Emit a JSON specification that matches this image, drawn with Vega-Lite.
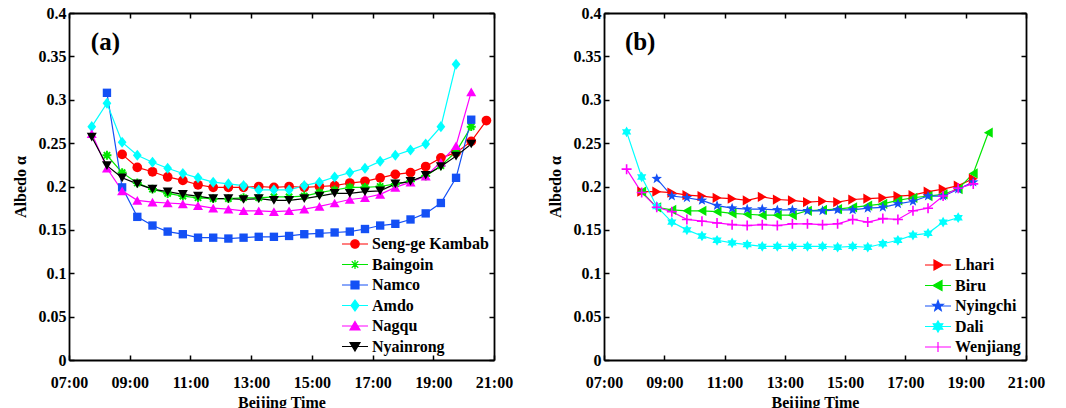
{
  "$schema": "https://vega.github.io/schema/vega-lite/v6.json",
  "padding": {"left": 12, "top": 5, "right": 5, "bottom": 5},
  "background": "white",
  "datasets": {
    "a": [
      {"s":"Seng-ge Kambab","t":8.75,"v":0.237},{"s":"Seng-ge Kambab","t":9.25,"v":0.222},{"s":"Seng-ge Kambab","t":9.75,"v":0.217},{"s":"Seng-ge Kambab","t":10.25,"v":0.211},{"s":"Seng-ge Kambab","t":10.75,"v":0.207},{"s":"Seng-ge Kambab","t":11.25,"v":0.202},{"s":"Seng-ge Kambab","t":11.75,"v":0.199},{"s":"Seng-ge Kambab","t":12.25,"v":0.199},{"s":"Seng-ge Kambab","t":12.75,"v":0.199},{"s":"Seng-ge Kambab","t":13.25,"v":0.2},{"s":"Seng-ge Kambab","t":13.75,"v":0.199},{"s":"Seng-ge Kambab","t":14.25,"v":0.2},{"s":"Seng-ge Kambab","t":14.75,"v":0.199},{"s":"Seng-ge Kambab","t":15.25,"v":0.2},{"s":"Seng-ge Kambab","t":15.75,"v":0.201},{"s":"Seng-ge Kambab","t":16.25,"v":0.204},{"s":"Seng-ge Kambab","t":16.75,"v":0.206},{"s":"Seng-ge Kambab","t":17.25,"v":0.21},{"s":"Seng-ge Kambab","t":17.75,"v":0.214},{"s":"Seng-ge Kambab","t":18.25,"v":0.216},{"s":"Seng-ge Kambab","t":18.75,"v":0.223},{"s":"Seng-ge Kambab","t":19.25,"v":0.233},{"s":"Seng-ge Kambab","t":19.75,"v":0.239},{"s":"Seng-ge Kambab","t":20.25,"v":0.252},{"s":"Seng-ge Kambab","t":20.75,"v":0.276},
      {"s":"Baingoin","t":8.25,"v":0.236},{"s":"Baingoin","t":8.75,"v":0.216},{"s":"Baingoin","t":9.25,"v":0.204},{"s":"Baingoin","t":9.75,"v":0.197},{"s":"Baingoin","t":10.25,"v":0.192},{"s":"Baingoin","t":10.75,"v":0.189},{"s":"Baingoin","t":11.25,"v":0.187},{"s":"Baingoin","t":11.75,"v":0.186},{"s":"Baingoin","t":12.25,"v":0.186},{"s":"Baingoin","t":12.75,"v":0.187},{"s":"Baingoin","t":13.25,"v":0.187},{"s":"Baingoin","t":13.75,"v":0.188},{"s":"Baingoin","t":14.25,"v":0.188},{"s":"Baingoin","t":14.75,"v":0.189},{"s":"Baingoin","t":15.25,"v":0.193},{"s":"Baingoin","t":15.75,"v":0.196},{"s":"Baingoin","t":16.25,"v":0.199},{"s":"Baingoin","t":16.75,"v":0.199},{"s":"Baingoin","t":17.25,"v":0.2},{"s":"Baingoin","t":17.75,"v":0.203},{"s":"Baingoin","t":18.25,"v":0.206},{"s":"Baingoin","t":18.75,"v":0.212},{"s":"Baingoin","t":19.25,"v":0.224},{"s":"Baingoin","t":19.75,"v":0.24},{"s":"Baingoin","t":20.25,"v":0.269},
      {"s":"Namco","t":8.25,"v":0.308},{"s":"Namco","t":8.75,"v":0.199},{"s":"Namco","t":9.25,"v":0.165},{"s":"Namco","t":9.75,"v":0.155},{"s":"Namco","t":10.25,"v":0.148},{"s":"Namco","t":10.75,"v":0.145},{"s":"Namco","t":11.25,"v":0.141},{"s":"Namco","t":11.75,"v":0.141},{"s":"Namco","t":12.25,"v":0.14},{"s":"Namco","t":12.75,"v":0.141},{"s":"Namco","t":13.25,"v":0.142},{"s":"Namco","t":13.75,"v":0.142},{"s":"Namco","t":14.25,"v":0.143},{"s":"Namco","t":14.75,"v":0.145},{"s":"Namco","t":15.25,"v":0.146},{"s":"Namco","t":15.75,"v":0.147},{"s":"Namco","t":16.25,"v":0.148},{"s":"Namco","t":16.75,"v":0.151},{"s":"Namco","t":17.25,"v":0.155},{"s":"Namco","t":17.75,"v":0.157},{"s":"Namco","t":18.25,"v":0.162},{"s":"Namco","t":18.75,"v":0.169},{"s":"Namco","t":19.25,"v":0.181},{"s":"Namco","t":19.75,"v":0.21},{"s":"Namco","t":20.25,"v":0.277},
      {"s":"Amdo","t":7.75,"v":0.269},{"s":"Amdo","t":8.25,"v":0.296},{"s":"Amdo","t":8.75,"v":0.251},{"s":"Amdo","t":9.25,"v":0.236},{"s":"Amdo","t":9.75,"v":0.228},{"s":"Amdo","t":10.25,"v":0.221},{"s":"Amdo","t":10.75,"v":0.215},{"s":"Amdo","t":11.25,"v":0.21},{"s":"Amdo","t":11.75,"v":0.205},{"s":"Amdo","t":12.25,"v":0.203},{"s":"Amdo","t":12.75,"v":0.201},{"s":"Amdo","t":13.25,"v":0.196},{"s":"Amdo","t":13.75,"v":0.196},{"s":"Amdo","t":14.25,"v":0.196},{"s":"Amdo","t":14.75,"v":0.201},{"s":"Amdo","t":15.25,"v":0.205},{"s":"Amdo","t":15.75,"v":0.211},{"s":"Amdo","t":16.25,"v":0.216},{"s":"Amdo","t":16.75,"v":0.221},{"s":"Amdo","t":17.25,"v":0.229},{"s":"Amdo","t":17.75,"v":0.236},{"s":"Amdo","t":18.25,"v":0.242},{"s":"Amdo","t":18.75,"v":0.249},{"s":"Amdo","t":19.25,"v":0.269},{"s":"Amdo","t":19.75,"v":0.341},
      {"s":"Nagqu","t":7.75,"v":0.261},{"s":"Nagqu","t":8.25,"v":0.221},{"s":"Nagqu","t":8.75,"v":0.195},{"s":"Nagqu","t":9.25,"v":0.184},{"s":"Nagqu","t":9.75,"v":0.182},{"s":"Nagqu","t":10.25,"v":0.181},{"s":"Nagqu","t":10.75,"v":0.18},{"s":"Nagqu","t":11.25,"v":0.178},{"s":"Nagqu","t":11.75,"v":0.175},{"s":"Nagqu","t":12.25,"v":0.174},{"s":"Nagqu","t":12.75,"v":0.172},{"s":"Nagqu","t":13.25,"v":0.172},{"s":"Nagqu","t":13.75,"v":0.171},{"s":"Nagqu","t":14.25,"v":0.172},{"s":"Nagqu","t":14.75,"v":0.174},{"s":"Nagqu","t":15.25,"v":0.177},{"s":"Nagqu","t":15.75,"v":0.181},{"s":"Nagqu","t":16.25,"v":0.185},{"s":"Nagqu","t":16.75,"v":0.187},{"s":"Nagqu","t":17.25,"v":0.191},{"s":"Nagqu","t":17.75,"v":0.199},{"s":"Nagqu","t":18.25,"v":0.205},{"s":"Nagqu","t":18.75,"v":0.212},{"s":"Nagqu","t":19.25,"v":0.228},{"s":"Nagqu","t":19.75,"v":0.247},{"s":"Nagqu","t":20.25,"v":0.309},
      {"s":"Nyainrong","t":7.75,"v":0.257},{"s":"Nyainrong","t":8.25,"v":0.224},{"s":"Nyainrong","t":8.75,"v":0.21},{"s":"Nyainrong","t":9.25,"v":0.203},{"s":"Nyainrong","t":9.75,"v":0.197},{"s":"Nyainrong","t":10.25,"v":0.194},{"s":"Nyainrong","t":10.75,"v":0.191},{"s":"Nyainrong","t":11.25,"v":0.189},{"s":"Nyainrong","t":11.75,"v":0.186},{"s":"Nyainrong","t":12.25,"v":0.186},{"s":"Nyainrong","t":12.75,"v":0.185},{"s":"Nyainrong","t":13.25,"v":0.186},{"s":"Nyainrong","t":13.75,"v":0.184},{"s":"Nyainrong","t":14.25,"v":0.184},{"s":"Nyainrong","t":14.75,"v":0.186},{"s":"Nyainrong","t":15.25,"v":0.189},{"s":"Nyainrong","t":15.75,"v":0.192},{"s":"Nyainrong","t":16.25,"v":0.192},{"s":"Nyainrong","t":16.75,"v":0.194},{"s":"Nyainrong","t":17.25,"v":0.195},{"s":"Nyainrong","t":17.75,"v":0.203},{"s":"Nyainrong","t":18.25,"v":0.206},{"s":"Nyainrong","t":18.75,"v":0.213},{"s":"Nyainrong","t":19.25,"v":0.223},{"s":"Nyainrong","t":19.75,"v":0.235},{"s":"Nyainrong","t":20.25,"v":0.249}
    ],
    "b": [
      {"s":"Lhari","t":8.25,"v":0.194},{"s":"Lhari","t":8.75,"v":0.194},{"s":"Lhari","t":9.25,"v":0.193},{"s":"Lhari","t":9.75,"v":0.19},{"s":"Lhari","t":10.25,"v":0.189},{"s":"Lhari","t":10.75,"v":0.187},{"s":"Lhari","t":11.25,"v":0.186},{"s":"Lhari","t":11.75,"v":0.184},{"s":"Lhari","t":12.25,"v":0.188},{"s":"Lhari","t":12.75,"v":0.185},{"s":"Lhari","t":13.25,"v":0.184},{"s":"Lhari","t":13.75,"v":0.182},{"s":"Lhari","t":14.25,"v":0.183},{"s":"Lhari","t":14.75,"v":0.182},{"s":"Lhari","t":15.25,"v":0.185},{"s":"Lhari","t":15.75,"v":0.186},{"s":"Lhari","t":16.25,"v":0.187},{"s":"Lhari","t":16.75,"v":0.189},{"s":"Lhari","t":17.25,"v":0.19},{"s":"Lhari","t":17.75,"v":0.194},{"s":"Lhari","t":18.25,"v":0.197},{"s":"Lhari","t":18.75,"v":0.201},{"s":"Lhari","t":19.25,"v":0.209},
      {"s":"Biru","t":8.25,"v":0.194},{"s":"Biru","t":8.75,"v":0.176},{"s":"Biru","t":9.25,"v":0.173},{"s":"Biru","t":9.75,"v":0.172},{"s":"Biru","t":10.25,"v":0.172},{"s":"Biru","t":10.75,"v":0.171},{"s":"Biru","t":11.25,"v":0.169},{"s":"Biru","t":11.75,"v":0.168},{"s":"Biru","t":12.25,"v":0.167},{"s":"Biru","t":12.75,"v":0.167},{"s":"Biru","t":13.25,"v":0.167},{"s":"Biru","t":13.75,"v":0.172},{"s":"Biru","t":14.25,"v":0.173},{"s":"Biru","t":14.75,"v":0.174},{"s":"Biru","t":15.25,"v":0.176},{"s":"Biru","t":15.75,"v":0.178},{"s":"Biru","t":16.25,"v":0.18},{"s":"Biru","t":16.75,"v":0.184},{"s":"Biru","t":17.25,"v":0.187},{"s":"Biru","t":17.75,"v":0.189},{"s":"Biru","t":18.25,"v":0.191},{"s":"Biru","t":18.75,"v":0.197},{"s":"Biru","t":19.25,"v":0.215},{"s":"Biru","t":19.75,"v":0.262},
      {"s":"Nyingchi","t":8.75,"v":0.209},{"s":"Nyingchi","t":9.25,"v":0.189},{"s":"Nyingchi","t":9.75,"v":0.187},{"s":"Nyingchi","t":10.25,"v":0.184},{"s":"Nyingchi","t":10.75,"v":0.178},{"s":"Nyingchi","t":11.25,"v":0.175},{"s":"Nyingchi","t":11.75,"v":0.174},{"s":"Nyingchi","t":12.25,"v":0.174},{"s":"Nyingchi","t":12.75,"v":0.173},{"s":"Nyingchi","t":13.25,"v":0.173},{"s":"Nyingchi","t":13.75,"v":0.172},{"s":"Nyingchi","t":14.25,"v":0.172},{"s":"Nyingchi","t":14.75,"v":0.173},{"s":"Nyingchi","t":15.25,"v":0.173},{"s":"Nyingchi","t":15.75,"v":0.175},{"s":"Nyingchi","t":16.25,"v":0.176},{"s":"Nyingchi","t":16.75,"v":0.18},{"s":"Nyingchi","t":17.25,"v":0.183},{"s":"Nyingchi","t":17.75,"v":0.189},{"s":"Nyingchi","t":18.25,"v":0.189},{"s":"Nyingchi","t":18.75,"v":0.197},{"s":"Nyingchi","t":19.25,"v":0.205},
      {"s":"Dali","t":7.75,"v":0.263},{"s":"Dali","t":8.25,"v":0.211},{"s":"Dali","t":8.75,"v":0.177},{"s":"Dali","t":9.25,"v":0.159},{"s":"Dali","t":9.75,"v":0.15},{"s":"Dali","t":10.25,"v":0.143},{"s":"Dali","t":10.75,"v":0.138},{"s":"Dali","t":11.25,"v":0.135},{"s":"Dali","t":11.75,"v":0.133},{"s":"Dali","t":12.25,"v":0.131},{"s":"Dali","t":12.75,"v":0.131},{"s":"Dali","t":13.25,"v":0.131},{"s":"Dali","t":13.75,"v":0.131},{"s":"Dali","t":14.25,"v":0.131},{"s":"Dali","t":14.75,"v":0.13},{"s":"Dali","t":15.25,"v":0.131},{"s":"Dali","t":15.75,"v":0.13},{"s":"Dali","t":16.25,"v":0.134},{"s":"Dali","t":16.75,"v":0.138},{"s":"Dali","t":17.25,"v":0.144},{"s":"Dali","t":17.75,"v":0.146},{"s":"Dali","t":18.25,"v":0.159},{"s":"Dali","t":18.75,"v":0.164},
      {"s":"Wenjiang","t":7.75,"v":0.22},{"s":"Wenjiang","t":8.25,"v":0.193},{"s":"Wenjiang","t":8.75,"v":0.176},{"s":"Wenjiang","t":9.25,"v":0.171},{"s":"Wenjiang","t":9.75,"v":0.162},{"s":"Wenjiang","t":10.25,"v":0.16},{"s":"Wenjiang","t":10.75,"v":0.158},{"s":"Wenjiang","t":11.25,"v":0.156},{"s":"Wenjiang","t":11.75,"v":0.155},{"s":"Wenjiang","t":12.25,"v":0.156},{"s":"Wenjiang","t":12.75,"v":0.155},{"s":"Wenjiang","t":13.25,"v":0.157},{"s":"Wenjiang","t":13.75,"v":0.157},{"s":"Wenjiang","t":14.25,"v":0.156},{"s":"Wenjiang","t":14.75,"v":0.157},{"s":"Wenjiang","t":15.25,"v":0.162},{"s":"Wenjiang","t":15.75,"v":0.159},{"s":"Wenjiang","t":16.25,"v":0.163},{"s":"Wenjiang","t":16.75,"v":0.162},{"s":"Wenjiang","t":17.25,"v":0.172},{"s":"Wenjiang","t":17.75,"v":0.175},{"s":"Wenjiang","t":18.25,"v":0.189},{"s":"Wenjiang","t":18.75,"v":0.198},{"s":"Wenjiang","t":19.25,"v":0.203}
    ]
  },
  "spacing": 110,
  "bounds": "flush",
  "resolve": {
    "scale": {"stroke": "independent", "fill": "independent", "shape": "independent"},
    "legend": {"stroke": "independent", "fill": "independent", "shape": "independent"}
  },
  "hconcat": [
    {
      "width": 425,
      "height": 347,
      "data": {"name": "a"},
      "layer": [
        {
          "mark": {"type": "line", "strokeWidth": 1.2},
          "encoding": {
            "x": {"field": "t", "type": "quantitative", "scale": {"domain": [7, 21], "nice": false, "zero": false},
                  "axis": {"orient": "bottom", "values": [7, 9, 11, 13, 15, 17, 19, 21], "labelExpr": "(datum.value < 10 ? '0' : '') + datum.value + ':00'", "title": "Beijing Time", "labelPadding": 19, "titlePadding": 4}},
            "y": {"field": "v", "type": "quantitative", "scale": {"domain": [0, 0.4], "nice": false, "zero": true},
                  "axis": {"orient": "left", "values": [0, 0.05, 0.1, 0.15, 0.2, 0.25, 0.3, 0.35, 0.4], "format": "~g", "title": "Albedo α", "labelPadding": 8, "titlePadding": 10}},
            "stroke": {"field": "s", "type": "nominal", "scale": {"domain": ["Seng-ge Kambab", "Baingoin", "Namco", "Amdo", "Nagqu", "Nyainrong"], "range": ["#ff0000", "#00e600", "#1450f5", "#00ffff", "#ff00ff", "#000000"]},
                       "legend": {"orient": "bottom-right", "offset": 5, "padding": 0, "title": null, "symbolSize": 100, "symbolStrokeWidth": 1.2, "symbolOpacity": 1, "labelOffset": 9, "rowPadding": 4.5, "labelLimit": 300}}
          }
        },
        {"transform": [{"filter": "datum.s === 'Seng-ge Kambab'"}], "mark": {"type": "point", "shape": "circle", "filled": true, "color": "#ff0000", "size": 95, "opacity": 1},
         "encoding": {"x": {"field": "t", "type": "quantitative", "axis": null}, "y": {"field": "v", "type": "quantitative", "axis": null}}},
        {"transform": [{"filter": "datum.s === 'Baingoin'"}], "mark": {"type": "point", "shape": "M-1,0H1M0,-1V1M-0.7,-0.7L0.7,0.7M-0.7,0.7L0.7,-0.7", "filled": false, "color": "#00e600", "size": 80, "strokeWidth": 2, "opacity": 1},
         "encoding": {"x": {"field": "t", "type": "quantitative", "axis": null}, "y": {"field": "v", "type": "quantitative", "axis": null}}},
        {"transform": [{"filter": "datum.s === 'Namco'"}], "mark": {"type": "point", "shape": "square", "filled": true, "color": "#1450f5", "size": 70, "opacity": 1},
         "encoding": {"x": {"field": "t", "type": "quantitative", "axis": null}, "y": {"field": "v", "type": "quantitative", "axis": null}}},
        {"transform": [{"filter": "datum.s === 'Amdo'"}], "mark": {"type": "point", "shape": "M0,-1.2L0.95,0L0,1.2L-0.95,0Z", "filled": true, "color": "#00ffff", "size": 85, "opacity": 1},
         "encoding": {"x": {"field": "t", "type": "quantitative", "axis": null}, "y": {"field": "v", "type": "quantitative", "axis": null}}},
        {"transform": [{"filter": "datum.s === 'Nagqu'"}], "mark": {"type": "point", "shape": "triangle-up", "filled": true, "color": "#ff00ff", "size": 100, "opacity": 1},
         "encoding": {"x": {"field": "t", "type": "quantitative", "axis": null}, "y": {"field": "v", "type": "quantitative", "axis": null}}},
        {"transform": [{"filter": "datum.s === 'Nyainrong'"}], "mark": {"type": "point", "shape": "triangle-down", "filled": true, "color": "#000000", "size": 100, "opacity": 1},
         "encoding": {"x": {"field": "t", "type": "quantitative", "axis": null}, "y": {"field": "v", "type": "quantitative", "axis": null}}},
        {
          "transform": [{"filter": "false"}],
          "mark": {"type": "point", "filled": true, "size": 100, "opacity": 1, "strokeWidth": 1.2},
          "encoding": {
            "x": {"field": "t", "type": "quantitative", "axis": {"orient": "top", "values": [7, 9, 11, 13, 15, 17, 19, 21], "labels": false, "title": null}},
            "y": {"field": "v", "type": "quantitative", "axis": {"orient": "right", "values": [0, 0.05, 0.1, 0.15, 0.2, 0.25, 0.3, 0.35, 0.4], "labels": false, "title": null}},
            "fill": {"field": "s", "type": "nominal", "scale": {"domain": ["Seng-ge Kambab", "Baingoin", "Namco", "Amdo", "Nagqu", "Nyainrong"], "range": ["#ff0000", "#00e600", "#1450f5", "#00ffff", "#ff00ff", "#000000"]},
                     "legend": {"orient": "bottom-right", "offset": 5, "padding": 0, "title": null, "symbolSize": 100, "symbolStrokeWidth": 1.2, "symbolOpacity": 1, "labelOffset": 9, "rowPadding": 4.5, "labelLimit": 300}},
            "stroke": {"field": "s", "type": "nominal", "scale": {"domain": ["Seng-ge Kambab", "Baingoin", "Namco", "Amdo", "Nagqu", "Nyainrong"], "range": ["#ff0000", "#00e600", "#1450f5", "#00ffff", "#ff00ff", "#000000"]},
                       "legend": {"orient": "bottom-right", "offset": 5, "padding": 0, "title": null, "symbolSize": 100, "symbolStrokeWidth": 1.2, "symbolOpacity": 1, "labelOffset": 9, "rowPadding": 4.5, "labelLimit": 300}},
            "shape": {"field": "s", "type": "nominal", "scale": {"domain": ["Seng-ge Kambab", "Baingoin", "Namco", "Amdo", "Nagqu", "Nyainrong"],
                       "range": [
                         "M-2.6,0H2.6M0.85,0A0.85,0.85,0,1,1,-0.85,0A0.85,0.85,0,1,1,0.85,0Z",
                         "M-2.6,0H2.6M-0.9,0H0.9M0,-0.9V0.9M-0.65,-0.65L0.65,0.65M-0.65,0.65L0.65,-0.65",
                         "M-2.6,0H2.6M-0.8,-0.8H0.8V0.8H-0.8Z",
                         "M-2.6,0H2.6M0,-1.1L0.8,0L0,1.1L-0.8,0Z",
                         "M-2.6,0H2.6M0,-0.9L1,0.8H-1Z",
                         "M-2.6,0H2.6M0,0.9L1,-0.8H-1Z"
                       ]},
                      "legend": {"orient": "bottom-right", "offset": 5, "padding": 0, "title": null, "symbolSize": 100, "symbolStrokeWidth": 1.2, "symbolOpacity": 1, "labelOffset": 9, "rowPadding": 4.5, "labelLimit": 300}}
          }
        },
        {
          "data": {"values": [{}]},
          "mark": {"type": "text", "text": "(a)", "font": "Liberation Serif", "fontWeight": "bold", "fontSize": 25, "align": "center", "baseline": "middle", "color": "black"},
          "encoding": {"x": {"datum": 8.2, "type": "quantitative", "axis": null}, "y": {"datum": 0.366, "type": "quantitative", "axis": null}}
        }
      ],
      "resolve": {"axis": {"x": "independent", "y": "independent"}}
    },
    {
      "width": 422,
      "height": 347,
      "data": {"name": "b"},
      "layer": [
        {
          "mark": {"type": "line", "strokeWidth": 1.2},
          "encoding": {
            "x": {"field": "t", "type": "quantitative", "scale": {"domain": [7, 21], "nice": false, "zero": false},
                  "axis": {"orient": "bottom", "values": [7, 9, 11, 13, 15, 17, 19, 21], "labelExpr": "(datum.value < 10 ? '0' : '') + datum.value + ':00'", "title": "Beijing Time", "labelPadding": 19, "titlePadding": 4}},
            "y": {"field": "v", "type": "quantitative", "scale": {"domain": [0, 0.4], "nice": false, "zero": true},
                  "axis": {"orient": "left", "values": [0, 0.05, 0.1, 0.15, 0.2, 0.25, 0.3, 0.35, 0.4], "format": "~g", "title": "Albedo α", "labelPadding": 8, "titlePadding": 10}},
            "stroke": {"field": "s", "type": "nominal", "scale": {"domain": ["Lhari", "Biru", "Nyingchi", "Dali", "Wenjiang"], "range": ["#ff0000", "#00e600", "#1450f5", "#00ffff", "#ff00ff"]},
                       "legend": {"orient": "bottom-right", "offset": 5, "padding": 0, "title": null, "symbolSize": 100, "symbolStrokeWidth": 1.2, "symbolOpacity": 1, "labelOffset": 9, "rowPadding": 4.5, "labelLimit": 300}}
          }
        },
        {"transform": [{"filter": "datum.s === 'Lhari'"}], "mark": {"type": "point", "shape": "triangle-right", "filled": true, "color": "#ff0000", "size": 105, "opacity": 1},
         "encoding": {"x": {"field": "t", "type": "quantitative", "axis": null}, "y": {"field": "v", "type": "quantitative", "axis": null}}},
        {"transform": [{"filter": "datum.s === 'Biru'"}], "mark": {"type": "point", "shape": "triangle-left", "filled": true, "color": "#00e600", "size": 105, "opacity": 1},
         "encoding": {"x": {"field": "t", "type": "quantitative", "axis": null}, "y": {"field": "v", "type": "quantitative", "axis": null}}},
        {"transform": [{"filter": "datum.s === 'Nyingchi'"}], "mark": {"type": "point", "shape": "M0,-1.1L0.265,-0.364L1.046,-0.34L0.428,0.139L0.647,0.89L0,0.45L-0.647,0.89L-0.428,0.139L-1.046,-0.34L-0.265,-0.364Z", "filled": true, "color": "#1450f5", "size": 100, "opacity": 1},
         "encoding": {"x": {"field": "t", "type": "quantitative", "axis": null}, "y": {"field": "v", "type": "quantitative", "axis": null}}},
        {"transform": [{"filter": "datum.s === 'Dali'"}], "mark": {"type": "point", "shape": "M0,-1.1L0.318,-0.55L0.953,-0.55L0.635,0L0.953,0.55L0.318,0.55L0,1.1L-0.318,0.55L-0.953,0.55L-0.635,0L-0.953,-0.55L-0.318,-0.55Z", "filled": true, "color": "#00ffff", "size": 95, "opacity": 1},
         "encoding": {"x": {"field": "t", "type": "quantitative", "axis": null}, "y": {"field": "v", "type": "quantitative", "axis": null}}},
        {"transform": [{"filter": "datum.s === 'Wenjiang'"}], "mark": {"type": "point", "shape": "M-1,0H1M0,-1V1", "filled": false, "color": "#ff00ff", "size": 100, "strokeWidth": 1.6, "opacity": 1},
         "encoding": {"x": {"field": "t", "type": "quantitative", "axis": null}, "y": {"field": "v", "type": "quantitative", "axis": null}}},
        {
          "transform": [{"filter": "false"}],
          "mark": {"type": "point", "filled": true, "size": 100, "opacity": 1, "strokeWidth": 1.2},
          "encoding": {
            "x": {"field": "t", "type": "quantitative", "axis": {"orient": "top", "values": [7, 9, 11, 13, 15, 17, 19, 21], "labels": false, "title": null}},
            "y": {"field": "v", "type": "quantitative", "axis": {"orient": "right", "values": [0, 0.05, 0.1, 0.15, 0.2, 0.25, 0.3, 0.35, 0.4], "labels": false, "title": null}},
            "fill": {"field": "s", "type": "nominal", "scale": {"domain": ["Lhari", "Biru", "Nyingchi", "Dali", "Wenjiang"], "range": ["#ff0000", "#00e600", "#1450f5", "#00ffff", "#ff00ff"]},
                     "legend": {"orient": "bottom-right", "offset": 5, "padding": 0, "title": null, "symbolSize": 100, "symbolStrokeWidth": 1.2, "symbolOpacity": 1, "labelOffset": 9, "rowPadding": 4.5, "labelLimit": 300}},
            "stroke": {"field": "s", "type": "nominal", "scale": {"domain": ["Lhari", "Biru", "Nyingchi", "Dali", "Wenjiang"], "range": ["#ff0000", "#00e600", "#1450f5", "#00ffff", "#ff00ff"]},
                       "legend": {"orient": "bottom-right", "offset": 5, "padding": 0, "title": null, "symbolSize": 100, "symbolStrokeWidth": 1.2, "symbolOpacity": 1, "labelOffset": 9, "rowPadding": 4.5, "labelLimit": 300}},
            "shape": {"field": "s", "type": "nominal", "scale": {"domain": ["Lhari", "Biru", "Nyingchi", "Dali", "Wenjiang"],
                       "range": [
                         "M-2.6,0H2.6M1,0L-0.8,-1V1Z",
                         "M-2.6,0H2.6M-1,0L0.8,-1V1Z",
                         "M-2.6,0H2.6M0,-1.1L0.265,-0.364L1.046,-0.34L0.428,0.139L0.647,0.89L0,0.45L-0.647,0.89L-0.428,0.139L-1.046,-0.34L-0.265,-0.364Z",
                         "M-2.6,0H2.6M0,-1.1L0.318,-0.55L0.953,-0.55L0.635,0L0.953,0.55L0.318,0.55L0,1.1L-0.318,0.55L-0.953,0.55L-0.635,0L-0.953,-0.55L-0.318,-0.55Z",
                         "M-2.6,0H2.6M0,-1V1"
                       ]},
                      "legend": {"orient": "bottom-right", "offset": 5, "padding": 0, "title": null, "symbolSize": 100, "symbolStrokeWidth": 1.2, "symbolOpacity": 1, "labelOffset": 9, "rowPadding": 4.5, "labelLimit": 300}}
          }
        },
        {
          "data": {"values": [{}]},
          "mark": {"type": "text", "text": "(b)", "font": "Liberation Serif", "fontWeight": "bold", "fontSize": 25, "align": "center", "baseline": "middle", "color": "black"},
          "encoding": {"x": {"datum": 8.2, "type": "quantitative", "axis": null}, "y": {"datum": 0.366, "type": "quantitative", "axis": null}}
        }
      ],
      "resolve": {"axis": {"x": "independent", "y": "independent"}}
    }
  ],
  "config": {
    "view": {"stroke": null},
    "axis": {
      "grid": false,
      "domainColor": "black",
      "domainWidth": 1.8,
      "tickColor": "black",
      "tickWidth": 1.5,
      "tickSize": -5,
      "labelFont": "Liberation Serif",
      "labelFontWeight": "bold",
      "labelFontSize": 16,
      "labelColor": "black",
      "labelFlush": false,
      "labelOverlap": false,
      "titleFont": "Liberation Serif",
      "titleFontWeight": "bold",
      "titleFontSize": 16,
      "titleColor": "black"
    },
    "legend": {
      "labelFont": "Liberation Serif",
      "labelFontWeight": "bold",
      "labelFontSize": 16,
      "labelColor": "black"
    }
  }
}
